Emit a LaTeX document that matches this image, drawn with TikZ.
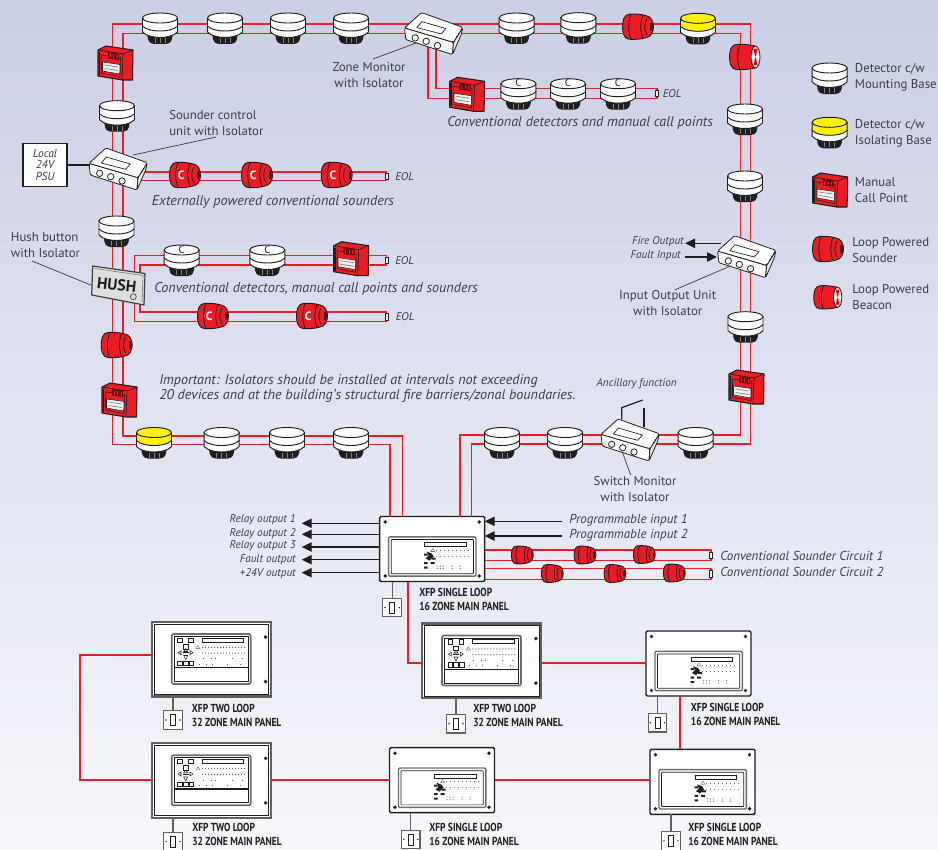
\documentclass[tikz,border=0pt]{standalone}
\usepackage{fontspec}
\setmainfont{PT Sans}
\usetikzlibrary{arrows.meta,calc}
\definecolor{rd}{HTML}{ED1C24}
\definecolor{blk}{HTML}{1E1E1E}
\definecolor{txt}{HTML}{3A3F45}
\definecolor{detyel}{HTML}{FFF200}
\definecolor{bgtop}{HTML}{CBCFE6}
\definecolor{bgbot}{HTML}{F6F7FB}
\newcommand\drawdet[1]{%
  \fill[blk] (-13,20) -- (-12,26) .. controls (-11,30) and (-8,31) .. (-6,31) -- (6,31) .. controls (8,31) and (11,30) .. (12,26) -- (13,20) -- cycle;
  \draw[gray,line width=.4pt] (-5,25) -- (-5,30) (0,25) -- (0,30) (5,25) -- (5,30);
  \draw[blk,line width=.7pt,fill=white] (-17.5,13) -- (-17.5,19) .. controls (-14,23) and (-6,24.5) .. (0,24.5) .. controls (6,24.5) and (14,23) .. (17.5,19) -- (17.5,13) -- cycle;
  \draw[blk,line width=.7pt,fill=#1] (-17.5,5) -- (-17.5,13) .. controls (-14,17) and (-6,18) .. (0,18) .. controls (6,18) and (14,17) .. (17.5,13) -- (17.5,5) -- cycle;
  \draw[blk,line width=.7pt,fill=#1] (0,5) ellipse [x radius=17.5,y radius=5];
}
\newcommand\drawbody{%
  \draw[blk,line width=.7pt,fill=rd] (-9,-12.5) .. controls (-14,-12) and (-15.5,-6) .. (-15.5,0) .. controls (-15.5,6) and (-14,12) .. (-9,12.5) .. controls (-3,13) and (3,12.5) .. (8,11) .. controls (13,10.5) and (15.5,5) .. (15.5,0) .. controls (15.5,-5) and (13,-10.5) .. (8,-11) .. controls (3,-12.5) and (-3,-13) .. (-9,-12.5) -- cycle;
  \draw[blk,line width=.6pt] (-7,-12.5) .. controls (-10,-5) and (-10,5) .. (-7,12.5)
     (5,-11.5) .. controls (2,-4) and (2,4) .. (5,11.5)
     (9,-8) .. controls (6,-3) and (6,3) .. (9,8);
  \fill[blk!80!rd] (12,-4) rectangle (15,4);
}
\newcommand\lampbody{%
  \draw[blk,line width=.7pt,fill=rd] (-9,-12.5) .. controls (-14,-12) and (-15.5,-6) .. (-15.5,0) .. controls (-15.5,6) and (-14,12) .. (-9,12.5) .. controls (-3,13) and (3,12.5) .. (10,11) -- (10,-11) .. controls (3,-12.5) and (-3,-13) .. (-9,-12.5) -- cycle;
  \draw[blk,line width=.6pt] (-5,-12.5) .. controls (-8,-5) and (-8,5) .. (-5,12.5);
  \draw[blk,line width=.6pt,fill=rd!25] (10.5,0) ellipse [x radius=4.5,y radius=11];
  \fill[rd!75!black] (10.5,0) -- (8.5,-8) -- (12.5,-8) -- cycle (10.5,0) -- (8.5,8) -- (12.5,8) -- cycle;
  \fill[white] (10.5,0) -- (7,-3) -- (7,3) -- cycle (10.5,0) -- (14,-3) -- (14,3) -- cycle;
}
\tikzset{
  wire/.style={draw=rd,line width=1.1pt,line join=miter},
  lead/.style={draw=blk!85,line width=.55pt},
  arr/.style={draw=blk,line width=1pt,-{Triangle[length=7.5pt,width=7pt]}},
  lblc/.style={font=\fontsize{9.6}{12}\selectfont,text=txt,inner sep=0pt,align=center},
  lbll/.style={font=\fontsize{9.6}{12}\selectfont,text=txt,inner sep=0pt,align=left,anchor=west},
  capt/.style={font=\fontsize{10.6}{12}\selectfont\itshape,text=txt,inner sep=0pt,align=left,anchor=west},
  small/.style={font=\fontsize{8.4}{9}\selectfont\itshape,text=txt,inner sep=0pt},
  circ/.style={font=\fontsize{9.75}{11}\selectfont\itshape,text=txt,inner sep=0pt,anchor=west},
  onepanel/.style={draw=blk,line width=1.1pt,fill=white,rounded corners=1pt,outer sep=0pt,inner sep=0pt,anchor=north west,minimum width=78.75pt,minimum height=48.75pt},
  twopanel/.style={draw=blk!70,line width=1.7pt,fill=white,outer sep=0pt,inner sep=0pt,anchor=north west,minimum width=89.25pt,minimum height=55.9pt},
  pics/detector/.style={code={\drawdet{#1}}},
  pics/detectorc/.style={code={\drawdet{white}\node[font=\fontsize{8}{8}\selectfont,text=blk,inner sep=0pt] at (0,4.5) {C};}},
  pics/sounder/.style={code={\drawbody}},
  pics/soundc/.style={code={\drawbody\node[font=\fontsize{9}{9}\selectfont\bfseries,text=white,inner sep=0pt] at (-3.7,0) {C};}},
  pics/beacon/.style={code={\lampbody}},
  pics/callpoint/.style={code={
    \draw[blk,line width=.8pt,fill=rd,line join=round] (-17,-13) -- (-9,-17) -- (18,-13) -- (17.5,17) -- (7,17) -- (-17,13) -- cycle;
    \draw[blk,line width=.5pt] (-17,-13) -- (8,-9) -- (18,-13) (8,-9) -- (7,17);
    \draw[blk,line width=1.1pt] (-15.5,-11) -- (-15.5,12);
    \draw[blk!85!rd,line width=.5pt] (-13.5,-8) -- (5.5,-5.5) -- (5,13.5) -- (-13.5,10) -- cycle;
    \fill[rd!45!black] (-7,-11) -- (4,-9.5) -- (4,-3) -- (-7,-4.5) -- cycle;
    \draw[rd,line width=.5pt] (-5,-9.5) -- (-5,-5.5) (-1.5,-9) -- (-1.5,-5) (2,-8.5) -- (2,-4.5);
    \draw[blk,line width=.4pt,fill=white!90!gray] (-12.5,-1) -- (5,1.5) -- (4.7,11) -- (-12.5,8) -- cycle;
    \draw[gray,line width=.5pt] (-10.5,2) -- (3,4) (-10.5,5.5) -- (3,7.5);
  }},
  pics/module/.style={code={
    \begin{scope}[line join=round,blk,line width=.6pt]
    \draw[fill=white,rounded corners=1pt] (-29,-5.7) -- (20,8.7) -- (19,21) -- (-27.7,6) -- cycle;
    \draw[fill=gray!15,rounded corners=1pt] (20,8.7) -- (29.3,-6.3) -- (27.7,1) -- (19,21) -- cycle;
    \draw[fill=white,rounded corners=1pt] (-29,-5.7) -- (-12,-21) -- (29.3,-6.3) -- (20,8.7) -- cycle;
    \draw[line width=.5pt] (-16.7,-6) -- (-11.7,-12) -- (12.3,-5) -- (7.7,.3) -- cycle;
    \draw[fill=white] (-18.3,4.3) circle (3.2) (-7.3,7.7) circle (3.2) (4,12) circle (3.2);
    \fill (23.5,3) circle (.8) (25.3,0) circle (.8);
    \end{scope}
  }},
  pics/endres/.style={code={\draw[blk,line width=.5pt,fill=white] (-1.7,-3.3) rectangle (1.7,3.3);}},
  pics/socket/.style={code={
    \draw[blk!70,line width=.8pt,fill=white] (-9.3,-9.3) rectangle (9.3,9.3);
    \draw[blk,line width=.6pt] (-2.5,-5.5) rectangle (2.5,5.5);
    \fill[blk] (-7,0) circle (.8) (7,0) circle (.8);
  }},
  pics/oneface/.style={code={
    \fill[blk] (5.5,5.5) circle (1.9) (99.5,5.5) circle (1.9) (5.5,59.5) circle (1.9) (99.5,59.5) circle (1.9);
    \draw[blk!65,line width=1.1pt,rounded corners=1pt] (9,20.3) rectangle (96.3,59.7);
    \draw[blk,line width=.5pt,rounded corners=.5pt] (11.5,23) rectangle (93.8,57.2);
    \draw[blk,line width=.5pt,fill=white] (45,26.3) rectangle (86.7,30.3);
    \fill[blk] (47,35) -- (52,37) -- (54,40) -- (50,44) -- (46,42) -- (49,39) -- cycle;
    \fill[blk] (44.5,37) rectangle (48,39) (52,41) rectangle (56,43) (44.5,45.5) rectangle (48,47.5) (51,45.5) rectangle (55,47.5) (44.5,50) rectangle (48,52);
    \draw[gray,line width=.4pt] (51,35) -- (53,32) -- (55,35) -- cycle;
    \foreach \x in {56,60,...,88} {\fill[blk!70] (\x,33.6) rectangle +(1,1);}
    \foreach \x in {56,60,...,88} {\fill[gray] (\x,39.6) rectangle +(1,1);}
    \foreach \x in {57,60,63,72,80} {\fill[gray] (\x,49) rectangle +(1.2,1) (\x,51.5) rectangle +(1.2,1);}
  }},
  pics/twoface/.style={code={
    \draw[blk,line width=.5pt] (2,2) rectangle (116.8,72.5);
    \fill[blk] (113.6,15) circle (1.9) (113.6,59.5) circle (1.9);
    \draw[blk!65,line width=1.3pt,rounded corners=1.5pt] (19.7,12) rectangle (98.7,62);
    \draw[blk,line width=.5pt] (22,14.5) rectangle (96.4,59.5);
    \draw[blk,line width=.9pt] (22,45.7) -- (96.4,45.7);
    \draw[blk,line width=.5pt,fill=white] (50.3,16.3) rectangle (91.7,20.3);
    \foreach \a/\b in {28/18.3,39/18.3,33.7/24.7,28/41.3,33.7/41.3,39.5/41.3} {\draw[blk,line width=.5pt] ($(\a,\b)+(-2.2,-2.2)$) rectangle +(4.4,4.4);}
    \draw[blk,line width=.4pt] (26,30.7) -- (29,28.7) -- (29,32.7) -- cycle (41,30.7) -- (38,28.7) -- (38,32.7) -- cycle (33.7,26.7) -- (31.7,29.5) -- (35.7,29.5) -- cycle (33.7,37.5) -- (31.7,33.5) -- (35.7,33.5) -- cycle;
    \draw[blk,line width=.4pt] (31,30.7) -- (36.5,30.7);
    \draw[gray,line width=.4pt] (44,26.5) -- (46,23.5) -- (48,26.5) -- cycle;
    \foreach \x in {50,53,...,92} {\fill[blk!70] (\x,24.9) rectangle +(1,1) (\x,30.6) rectangle +(1,1);}
    \foreach \x in {51,59,63,80,90} {\fill[blk!70] (\x,36.2) rectangle +(1,1);}
    \foreach \x in {47,54,60,75,88} {\fill[blk!70] (\x,41.5) rectangle +(1,1);}
  }},
}
\newcommand\dev[3]{\coordinate (#1) at (#2); \pic at (#1) {#3};}
\newcommand\xfp[3]{\node[inner sep=0pt,anchor=west,text=blk,font=\fontsize{8.7}{10.5}\selectfont\bfseries] (#1) at (#2) {\scalebox{.82}[1]{\begin{tabular}{@{}l@{}}#3\end{tabular}}};}
\begin{document}
\begin{tikzpicture}[x=0.75pt,y=-0.75pt]
\path[use as bounding box,clip] (0,0) rectangle (938,849);
\shade[top color=bgtop,bottom color=bgbot] (0,0) rectangle (938,849);

% panels first, so that connectors can name them
\node[onepanel] (main) at (379.7,516.5) {};
\node[twopanel] (pa) at (152,622) {};
\node[twopanel] (pb) at (152,743.3) {};
\node[twopanel] (pc) at (422.3,623.5) {};
\node[onepanel] (pd) at (646,631) {};
\node[onepanel] (pe) at (389.5,747.7) {};
\node[onepanel] (pf) at (650,749.3) {};

% loop corners
\coordinate (a1) at (460,435); \coordinate (a2) at (740.4,435); \coordinate (a3) at (740.4,33.5); \coordinate (a4) at (123,33.5); \coordinate (a5) at (123,436); \coordinate (a6) at (402.7,436);
\coordinate (b1) at (471.7,444); \coordinate (b2) at (750.7,444); \coordinate (b3) at (750.7,24); \coordinate (b4) at (112.7,24); \coordinate (b5) at (112.7,444.7); \coordinate (b6) at (390,444.7);
\draw[wire] (a1 |- main.north) -- (a1) -- (a2) -- (a3) -- (a4) -- (a5) -- (a6) -- (a6 |- main.north);
\draw[wire] (b1 |- main.north) -- (b1) -- (b2) -- (b3) -- (b4) -- (b5) -- (b6) -- (b6 |- main.north);

% spur wires
\coordinate (zm) at (433.5,33.6); \coordinate (su) at (118,169); \coordinate (hb) at (118,285); \coordinate (io) at (746.6,256.7); \coordinate (sw) at (630,440);
\coordinate (z1) at (428,98.7); \coordinate (z2) at (657,98.7); \coordinate (z3) at (657,88.3); \coordinate (z4) at (436,88.3);
\draw[wire] (z1 |- zm) -- (z1) -- (z2) -- (z3) -- (z4) -- (z4 |- zm);
\coordinate (s1) at (386.7,172); \coordinate (s2) at (386.7,180.7);
\draw[wire] (su |- s1) -- (s1) -- (s2) -- (su |- s2);
\coordinate (h1) at (134.3,255.7); \coordinate (h2) at (386.7,255.7); \coordinate (h3) at (386.7,265); \coordinate (h4) at (140,265);
\draw[wire] (h1 |- hb) -- (h1) -- (h2) -- (h3) -- (h4) -- (h4 |- hb);
\coordinate (h5) at (134.3,321.7); \coordinate (h6) at (386.7,321.7); \coordinate (h7) at (386.7,312); \coordinate (h8) at (140,312);
\draw[wire] (h5 |- hb) -- (h5) -- (h6) -- (h7) -- (h8) -- (h8 |- hb);
\coordinate (c1) at (711,550); \coordinate (c2) at (711,560.7); \coordinate (c3) at (711,568.7); \coordinate (c4) at (711,579.3);
\draw[wire] (c1 -| main.east) -- (c1) -- (c2) -- (c2 -| main.east);
\draw[wire] (c3 -| main.east) -- (c3) -- (c4) -- (c4 -| main.east);

% network wires
\coordinate (n1) at (408,663); \coordinate (n2) at (80,655); \coordinate (n3) at (80,780); \coordinate (n4) at (680,700);
\draw[wire] (n1 |- main.south) -- (n1) -- (n1 -| pc.west);
\draw[wire] (n1 -| pc.east) -- (n1 -| pd.west);
\draw[wire] (n2 -| pa.west) -- (n2) -- (n3) -- (n3 -| pb.west);
\draw[wire] (n3 -| pb.east) -- (n3 -| pe.west);
\draw[wire] (n3 -| pe.east) -- (n3 -| pf.west);
\draw[wire] (n4 |- pd.south) -- (n4 |- pf.north);

% devices: top run
\dev{d1}{160,13}{detector=white}
\dev{d2}{225,13}{detector=white}
\dev{d3}{288,13}{detector=white}
\dev{d4}{351,13}{detector=white}
\dev{d5}{516.7,13}{detector=white}
\dev{d6}{578.4,12.7}{detector=white}
\dev{t1}{638,26.7}{sounder}
\dev{d7}{698,13.3}{detector=detyel}
\dev{t2}{745,57}{beacon}
% right run
\dev{d8}{745,104}{detector=white}
\dev{d9}{745,171}{detector=white}
\dev{d10}{745.5,311.7}{detector=white}
\dev{m1}{746,387}{callpoint}
% left run
\dev{m2}{115,63}{callpoint}
\dev{d11}{117,100.7}{detector=white}
\dev{d12}{116.5,216}{detector=white}
\dev{t3}{116.7,345}{sounder}
\dev{m3}{119,400}{callpoint}
% lower runs
\dev{d13}{154,427.5}{detector=detyel}
\dev{d14}{221.7,427.5}{detector=white}
\dev{d15}{287,427.5}{detector=white}
\dev{d16}{351,427.5}{detector=white}
\dev{d17}{502,427.5}{detector=white}
\dev{d18}{565,427.5}{detector=white}
\dev{d19}{695.7,427.5}{detector=white}
% zone branch
\dev{m4}{466.6,94.3}{callpoint}
\dev{d20}{518.4,78.7}{detectorc}
\dev{d21}{568,78.7}{detectorc}
\dev{d22}{618,78.7}{detectorc}
\dev{r1}{657,93.5}{endres}
% sounder branch
\dev{t4}{185,175}{soundc}
\dev{t5}{257,175}{soundc}
\dev{t6}{336.7,175}{soundc}
\dev{r2}{386.7,176.3}{endres}
% hush branches
\dev{d23}{181.7,245}{detectorc}
\dev{d24}{267.3,245}{detectorc}
\dev{m5}{350.7,258.7}{callpoint}
\dev{r3}{386.7,260.5}{endres}
\dev{t7}{213,316}{soundc}
\dev{t8}{312,316}{soundc}
\dev{r4}{386.7,317}{endres}
% circuits
\coordinate (k1) at (522.3,555); \pic[scale=.7] at (k1) {sounder};
\coordinate (k2) at (585,555); \pic[scale=.7] at (k2) {sounder};
\coordinate (k3) at (644.3,554.5); \pic[scale=.7] at (k3) {sounder};
\coordinate (k4) at (552.3,573.5); \pic[scale=.7] at (k4) {sounder};
\coordinate (k5) at (615,573.5); \pic[scale=.7] at (k5) {sounder};
\coordinate (k6) at (674.3,573); \pic[scale=.7] at (k6) {sounder};
\dev{r5}{711,555.3}{endres}
\dev{r6}{711,574}{endres}

% modules
\pic at (zm) {module};
\pic at (su) {module};
\pic at (io) {module};
\pic at (sw) {module};

% relay contacts of the switch monitor
\coordinate (q1) at (621.7,419.3); \coordinate (q2) at (621.7,407.7); \coordinate (q3) at (642.7,400); \coordinate (q4) at (644,426.7); \coordinate (q5) at (644,407.7);
\draw[blk,line width=.9pt] (q1) -- (q2) -- (q3);
\draw[blk,line width=.9pt] (q4) -- (q5);

% hush
\coordinate (hu) at (116.7,285);
\draw[blk!85,line width=.9pt,fill=gray!25,line join=round] (92.7,266) -- (145,273.5) -- (144,305) -- (91.7,295) -- cycle;
\draw[gray,line width=.5pt] (94.7,268.5) -- (143,275.5) -- (142,302);
\node[font=\fontsize{12}{12}\selectfont\bfseries,text=blk,inner sep=0pt,rotate=-6] (hushtext) at (hu) {HUSH};
\draw[blk!85,line width=.5pt] (133.3,296.7) circle (3);

% PSU
\node[draw=blk,line width=.9pt,fill=white,inner sep=0pt,minimum width=33pt,minimum height=32.5pt,font=\fontsize{8.6}{8.8}\selectfont\itshape,text=txt,align=center] (psu) at (45,165) {Local\\24V\\PSU};
\coordinate (pj) at (90,165);
\draw[blk,line width=.9pt] (psu.east) -- (pj);

% panels faces
\pic at (main.north west) {oneface};
\pic at (pd.north west) {oneface};
\pic at (pe.north west) {oneface};
\pic at (pf.north west) {oneface};
\pic at (pa.north west) {twoface};
\pic at (pb.north west) {twoface};
\pic at (pc.north west) {twoface};

% sockets
\coordinate (ms) at (392.2,607.5); \coordinate (as) at (173,720); \coordinate (bs) at (173,841.6); \coordinate (cs) at (456,723.7); \coordinate (ds) at (657.4,722.7); \coordinate (es) at (410.7,839.4); \coordinate (fs) at (671,840.8);
\foreach \s/\p in {ms/main,as/pa,bs/pb,cs/pc,ds/pd,es/pe,fs/pf} {
  \draw[blk!70,line width=.9pt] (\s |- \p.south) -- (\s);
  \pic at (\s) {socket};
}

% arrows at the main panel
\coordinate (o1) at (301.7,523.3); \coordinate (o2) at (301.7,534.3); \coordinate (o3) at (301.7,547); \coordinate (o4) at (301.7,559.7); \coordinate (o5) at (301.7,572.7);
\foreach \o in {o1,o2,o3,o4,o5} {\draw[arr] (\o -| main.west) -- (\o);}
\coordinate (i1) at (561.7,521.3); \coordinate (i2) at (561.7,536);
\foreach \o in {i1,i2} {\draw[arr] (\o) -- (\o -| main.east);}
\coordinate (f1) at (721,243.3); \coordinate (f2) at (685,243.3); \coordinate (f3) at (685,257); \coordinate (f4) at (717,257);
\draw[arr] (f1) -- (f2);
\draw[arr] (f3) -- (f4);

% texts
\node[lblc] (tzm) at (369,74.7) {Zone Monitor\\with Isolator};
\coordinate (lz) at (417,42.7); \draw[lead] (373,59) -- (lz);
\node[lbll] (tsc) at (169,122.7) {Sounder control\\unit with Isolator};
\coordinate (ls) at (133,155); \draw[lead] (216,137) -- (ls);
\node[lbll] (thu) at (10.7,244.7) {Hush button\\with Isolator};
\coordinate (lh) at (90.7,285); \draw[lead] (32,261) -- (lh);
\node[lblc] (tio) at (667.7,302.7) {Input Output Unit\\with Isolator};
\coordinate (li) at (731,265.7); \draw[lead] (674.5,290) -- (li);
\node[lblc] (tsw) at (635,488.7) {Switch Monitor\\with Isolator};
\coordinate (lw) at (622.7,453); \draw[lead] (630.7,475) -- (lw);
\node[lbll] (l1) at (854.7,77.7) {Detector c/w\\Mounting Base};
\node[lbll] (l2) at (854.7,133.2) {Detector c/w\\Isolating Base};
\node[lbll] (l3) at (854.7,189.7) {Manual\\Call Point};
\node[lbll] (l4) at (852,249.7) {Loop Powered\\Sounder};
\node[lbll] (l5) at (852,297) {Loop Powered\\Beacon};

\dev{ld1}{829.6,63}{detector=white}
\dev{ld2}{829.6,117.3}{detector=detyel}
\dev{lm}{829.6,190}{callpoint}
\dev{lt}{828,249}{sounder}
\coordinate (lb) at (828,297.3);
\pic[scale=.92] at (lb) {beacon};

\node[capt] (c1t) at (151.7,201.7) {Externally powered conventional sounders};
\node[capt] (c2t) at (154,288.7) {Conventional detectors, manual call points and sounders};
\node[capt] (c3t) at (447,122.7) {Conventional detectors and manual call points};
\node[capt] (c4t) at (159,381) {Important:  Isolators should be installed at intervals not exceeding};
\node[capt] (c5t) at (159,395.8) {20 devices and at the building's structural fire barriers/zonal boundaries.};
\node[small,anchor=west] (e1) at (662.5,93.5) {EOL};
\node[small,anchor=west] (e2) at (395,176.3) {EOL};
\node[small,anchor=west] (e3) at (395,261) {EOL};
\node[small,anchor=west] (e4) at (395.5,317) {EOL};
\node[small,anchor=east] (fo) at (684,242) {Fire Output};
\node[small,anchor=east] (fi) at (681,255.3) {Fault Input};
\node[small] (anc) at (636.7,384) {Ancillary function};
\node[small,anchor=east] (r1t) at (296,520) {Relay output 1};
\node[small,anchor=east] (r2t) at (296,533.5) {Relay output 2};
\node[small,anchor=east] (r3t) at (296,546) {Relay output 3};
\node[small,anchor=east] (r4t) at (296,560) {Fault output};
\node[small,anchor=east] (r5t) at (296,573.5) {+24V output};
\node[circ] (p1t) at (569,520) {Programmable input 1};
\node[circ] (p2t) at (569,535.7) {Programmable input 2};
\node[circ] (s1t) at (720,555.7) {Conventional Sounder Circuit 1};
\node[circ] (s2t) at (720,571.7) {Conventional Sounder Circuit 2};

\xfp{xm}{419,601}{XFP SINGLE LOOP\\16 ZONE MAIN PANEL}
\xfp{xa}{191.7,716.2}{XFP TWO LOOP\\32 ZONE MAIN PANEL}
\xfp{xb}{192,836}{XFP TWO LOOP\\32 ZONE MAIN PANEL}
\xfp{xc}{473,716.7}{XFP TWO LOOP\\32 ZONE MAIN PANEL}
\xfp{xd}{690.7,716}{XFP SINGLE LOOP\\16 ZONE MAIN PANEL}
\xfp{xe}{429,836}{XFP SINGLE LOOP\\16 ZONE MAIN PANEL}
\xfp{xf}{688,836}{XFP SINGLE LOOP\\16 ZONE MAIN PANEL}
\end{tikzpicture}
\end{document}
